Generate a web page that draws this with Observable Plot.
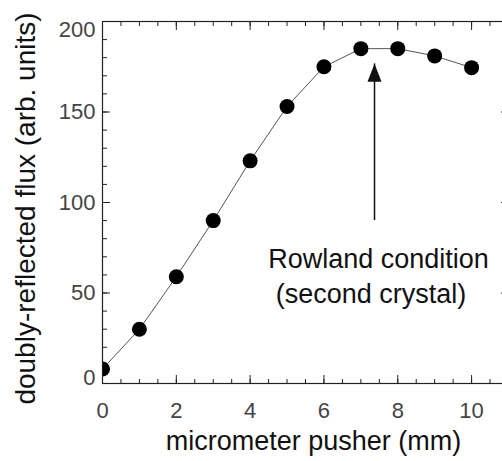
<!DOCTYPE html>
<html><head><meta charset="utf-8">
<script src="https://cdn.jsdelivr.net/npm/d3@7"></script>
<script src="https://cdn.jsdelivr.net/npm/@observablehq/plot@0.6"></script>
<style>
html,body{margin:0;padding:0;background:#fff;overflow:hidden;width:502px;height:461px}
#chart{width:502px;height:461px;overflow:hidden}
#chart svg{display:block;max-width:none !important;width:512px !important;height:461px !important}
</style></head><body><div id="chart"></div>
<script>
// data
const pusherMm = [0, 1, 2, 3, 4, 5, 6, 7, 8, 9, 10];
const flux = [8, 30, 59, 90, 123, 153, 175, 185, 185, 181, 174.5];

// ticks
const xMajorTicks = [0, 2, 4, 6, 8, 10];
const xMinorTicks = [0, 0.5, 1, 1.5, 2, 2.5, 3, 3.5, 4, 4.5, 5, 5.5, 6, 6.5, 7, 7.5, 8, 8.5, 9, 9.5, 10, 10.5, 11];
const yMajorTicks = [0, 50, 100, 150, 200];
const yMinorTicks = [0, 10, 20, 30, 40, 50, 60, 70, 80, 90, 100, 110, 120, 130, 140, 150, 160, 170, 180, 190, 200];
const yLabelsMid = [50, 100, 150];
const yLabelTop = [200];
const yLabelBottom = [0];

// labels
const xTitle = ["micrometer pusher (mm)"];
const yTitle = ["doubly-reflected flux (arb. units)"];

// annotation
const arrowX = [7.37];
const arrowFrom = [90];
const arrowTo = [176.6];
const noteText = ["Rowland condition\n\u00a0(second crystal)"];
const noteX = [4.49];
const noteY = [77.4];

const points = pusherMm.map((x, i) => ({x, y: flux[i]}));
const arrows = arrowX.map((x, i) => ({x, y1: arrowFrom[i], y2: arrowTo[i]}));
const notes = noteText.map((t, i) => ({t, x: noteX[i], y: noteY[i]}));

const arrowHead = {
  draw(context) {
    context.moveTo(0, 0);
    context.lineTo(7, 18);
    context.lineTo(-7, 18);
    context.closePath();
  }
};

const font = "'Liberation Sans', Arial, Helvetica, sans-serif";
const tickColor = "#222";
const labelColor = "#444";

const chart = Plot.plot({
  width: 512,
  height: 461,
  marginLeft: 102,
  marginRight: 4,
  marginTop: 21,
  marginBottom: 78,
  x: {domain: [0, 11], axis: null},
  y: {domain: [0, 200], axis: null},
  style: {fontFamily: font, background: "white", color: "#1a1a1a", overflow: "visible"},
  marks: [
    // inward ticks, bottom
    Plot.axisX(xMinorTicks, {anchor: "bottom", tickSize: 4, dy: -4, fill: "none", stroke: tickColor, label: null}),
    Plot.axisX(xMajorTicks, {anchor: "bottom", tickSize: 8, dy: -8, fill: "none", stroke: tickColor, label: null}),
    // inward ticks, top
    Plot.axisX(xMinorTicks, {anchor: "top", tickSize: 4, dy: 4, fill: "none", stroke: tickColor, label: null}),
    Plot.axisX(xMajorTicks, {anchor: "top", tickSize: 8, dy: 8, fill: "none", stroke: tickColor, label: null}),
    // inward ticks, left
    Plot.axisY(yMinorTicks, {anchor: "left", tickSize: 5, dx: 5, fill: "none", stroke: tickColor, label: null}),
    Plot.axisY(yMajorTicks, {anchor: "left", tickSize: 8, dx: 8, fill: "none", stroke: tickColor, label: null}),
    // inward ticks, right
    Plot.axisY(yMinorTicks, {anchor: "right", tickSize: 5, dx: -5, fill: "none", stroke: tickColor, label: null}),
    Plot.axisY(yMajorTicks, {anchor: "right", tickSize: 8, dx: -8, fill: "none", stroke: tickColor, label: null}),
    // tick labels
    Plot.axisX(xMajorTicks, {anchor: "bottom", tickSize: 0, tickPadding: 19, fontSize: 22, fill: labelColor, label: null}),
    Plot.axisY(yLabelsMid, {anchor: "left", tickSize: 0, tickPadding: 7, fontSize: 22, fill: labelColor, label: null}),
    Plot.axisY(yLabelTop, {anchor: "left", tickSize: 0, tickPadding: 7, dy: 8, fontSize: 22, fill: labelColor, label: null}),
    Plot.axisY(yLabelBottom, {anchor: "left", tickSize: 0, tickPadding: 7, dy: -6, fontSize: 22, fill: labelColor, label: null}),
    // axis titles
    Plot.text(xTitle, {text: d => d, frameAnchor: "bottom", textAnchor: "middle", lineAnchor: "top", dy: 47, dx: 8, fontSize: 27, fill: "#111"}),
    Plot.text(yTitle, {text: d => d, frameAnchor: "left", textAnchor: "middle", lineAnchor: "middle", rotate: -90, dx: -76, dy: 6, fontSize: 28, fill: "#111"}),
    // data
    Plot.line(points, {x: "x", y: "y", stroke: "#555", strokeWidth: 1}),
    Plot.dot(points, {x: "x", y: "y", r: 7.5, fill: "black", stroke: "none", clip: true}),
    // annotation
    Plot.ruleX(arrows, {x: "x", y1: "y1", y2: "y2", stroke: "#111", strokeWidth: 1.5}),
    Plot.dot(arrows, {x: "x", y: "y2", symbol: arrowHead, r: 5, fill: "#111", stroke: "none"}),
    Plot.text(notes, {x: "x", y: "y", text: "t", textAnchor: "start", lineAnchor: "top", lineHeight: 1.3, fontSize: 27, fill: "#111"}),
    Plot.frame({stroke: "#222", strokeWidth: 1.2})
  ]
});
document.getElementById("chart").appendChild(chart);
</script>
</body></html>
